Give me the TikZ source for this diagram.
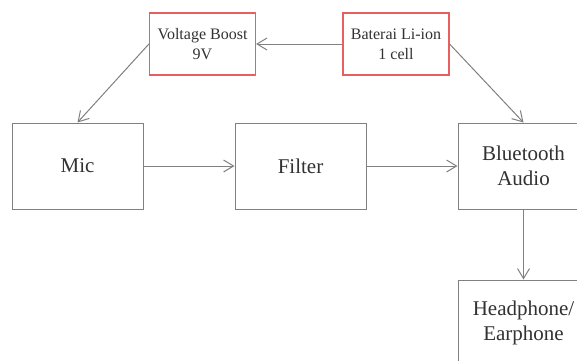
\documentclass[tikz,border=0pt]{standalone}
\usepackage{fontspec}
\setmainfont{Liberation Serif}
\usetikzlibrary{arrows.meta}
\definecolor{linegray}{RGB}{128,128,128}
\definecolor{boxred}{RGB}{232,95,95}
\definecolor{txtgray}{RGB}{50,50,50}
\tikzset{
  bigbox/.style={draw=linegray, line width=1pt, rectangle, minimum width=131pt, minimum height=86pt, inner sep=0pt, align=center, text=txtgray, font=\fontsize{21}{25}\selectfont},
  redbox/.style={draw=boxred, line width=1.2pt, rectangle, minimum width=106pt, minimum height=62pt, inner sep=0pt, align=center, text=txtgray, font=\fontsize{16}{20}\selectfont},
  conn/.style={draw=linegray, line width=1pt, -{Straight Barb[length=10pt,width=12pt,line width=1pt]}}
}
\begin{document}
\begin{tikzpicture}[x=1pt,y=-1pt]
\useasboundingbox (0,0) rectangle (577,360);
\fill[white] (0,0) rectangle (577,360);
\node[redbox] (vb) at (202.5,44) {Voltage Boost\\9V};
\node[redbox] (bat) at (396,44) {Baterai Li-ion\\1 cell};
\node[bigbox] (mic) at (77.5,166) {Mic};
\node[bigbox] (filter) at (300.5,166) {Filter};
\node[bigbox] (bt) at (523.5,166) {Bluetooth\\Audio};
\node[bigbox] (hp) at (523.5,323) {Headphone/\\Earphone};
\draw[conn] (bat.west) -- (vb.east);
\draw[conn] (vb.west) -- (mic.north);
\draw[conn] (bat.east) -- (bt.north);
\draw[conn] (mic.east) -- (filter.west);
\draw[conn] (filter.east) -- (bt.west);
\draw[conn] (bt.south) -- (hp.north);
\end{tikzpicture}
\end{document}
